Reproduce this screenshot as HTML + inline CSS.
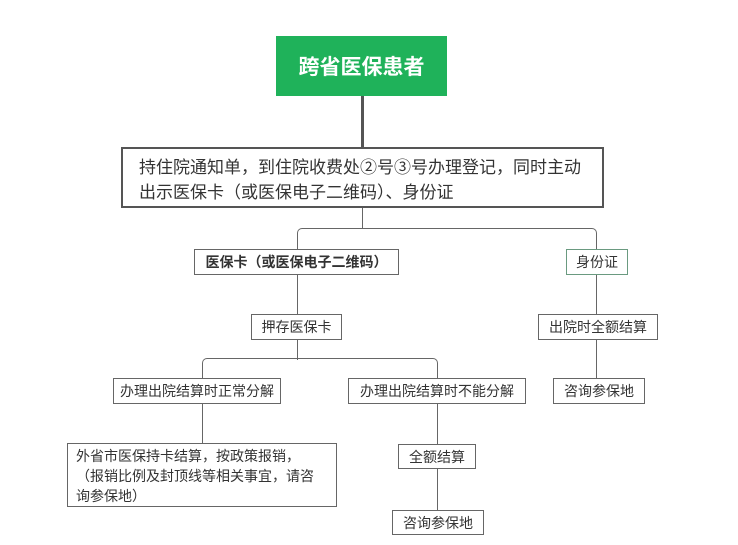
<!DOCTYPE html>
<html><head><meta charset="utf-8"><style>
body{margin:0;width:738px;height:545px;background:#fff;position:relative;overflow:hidden;font-family:"Liberation Sans","Noto Sans CJK SC",sans-serif;color:#333}
.b{position:absolute;box-sizing:border-box;border:1px solid #666;background:#fff;display:flex;align-items:center;justify-content:center;font-size:14px;white-space:nowrap}
.l{position:absolute;background:#666}
</style></head><body>
<div class="l" style="left:361px;top:96px;width:3px;height:52px;background:#555"></div>
<div class="l" style="left:362px;top:208px;width:1px;height:20px"></div>
<div style="position:absolute;left:297px;top:228px;width:300px;height:22px;border:1px solid #666;border-bottom:none;border-radius:5px 5px 0 0;box-sizing:border-box"></div>
<div class="l" style="left:297px;top:274px;width:1px;height:40px"></div>
<div class="l" style="left:596px;top:274px;width:1px;height:40px"></div>
<div class="l" style="left:596px;top:339px;width:1px;height:39px"></div>
<div class="l" style="left:297px;top:340px;width:1px;height:20px"></div>
<div style="position:absolute;left:202px;top:358px;width:236px;height:22px;border:1px solid #666;border-bottom:none;border-radius:5px 5px 0 0;box-sizing:border-box"></div>
<div class="l" style="left:202px;top:403px;width:1px;height:41px"></div>
<div class="l" style="left:437px;top:403px;width:1px;height:41px"></div>
<div class="l" style="left:437px;top:469px;width:1px;height:41px"></div>

<div class="b" style="left:276px;top:36px;width:171px;height:60px;background:#1fb25a;border:none;color:#fff;font-size:21px;font-weight:bold">跨省医保患者</div>
<div class="b" style="left:121px;top:147px;width:483px;height:61px;border:2px solid #555;justify-content:flex-start;align-items:flex-start;padding:6px 0 0 16px;font-size:17px;line-height:25px;white-space:normal">持住院通知单，到住院收费处②号③号办理登记，同时主动<br>出示医保卡（或医保电子二维码）、身份证</div>
<div class="b" style="left:194px;top:249px;width:205px;height:26px;font-weight:bold;font-size:14px">医保卡（或医保电子二维码）</div>
<div class="b" style="left:566px;top:249px;width:62px;height:26px;border-color:#6a9a80">身份证</div>
<div class="b" style="left:251px;top:314px;width:91px;height:26px">押存医保卡</div>
<div class="b" style="left:538px;top:314px;width:120px;height:26px">出院时全额结算</div>
<div class="b" style="left:113px;top:378px;width:168px;height:26px">办理出院结算时正常分解</div>
<div class="b" style="left:348px;top:378px;width:178px;height:26px">办理出院结算时不能分解</div>
<div class="b" style="left:553px;top:378px;width:92px;height:26px">咨询参保地</div>
<div class="b" style="left:67px;top:443px;width:270px;height:64px;justify-content:flex-start;align-items:flex-start;padding:2px 0 0 8px;line-height:20px;white-space:normal">外省市医保持卡结算，按政策报销，<br>（报销比例及封顶线等相关事宜，请咨<br>询参保地）</div>
<div class="b" style="left:398px;top:444px;width:78px;height:25px">全额结算</div>
<div class="b" style="left:392px;top:510px;width:92px;height:25px">咨询参保地</div>
</body></html>
